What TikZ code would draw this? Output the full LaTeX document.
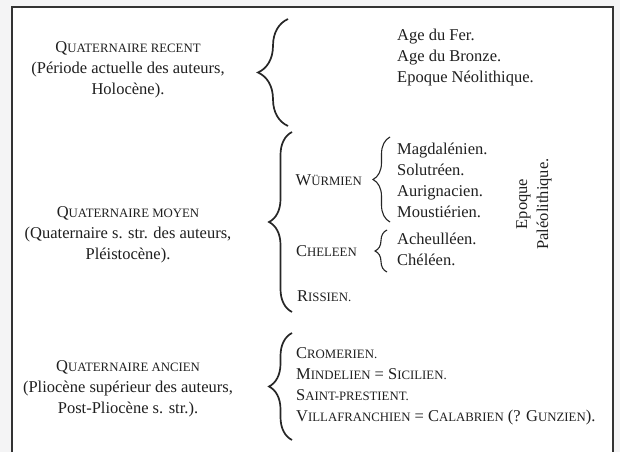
\documentclass[tikz,border=0pt]{standalone}
\usepackage{fontspec}
\setmainfont{Liberation Serif}
\usetikzlibrary{decorations.pathreplacing,positioning}

\newcommand\petcap[2]{#1{\fontsize{12.8}{15}\selectfont #2}}

\begin{document}
\begin{tikzpicture}[x=1pt,y=-1pt,font=\fontsize{16.5}{21}\selectfont,text=black!88]
  \tikzstyle{every node}=[inner sep=0pt]
  \tikzstyle{titre}=[align=center]
  \tikzstyle{liste}=[align=left,anchor=west]
  \tikzstyle{curly}=[decorate,decoration={brace,amplitude=#1},line width=1.7pt,black!85]
  \tikzstyle{petit}=[decorate,decoration={brace,amplitude=#1},line width=1.1pt,black!85]

  \useasboundingbox (0,0) rectangle (620,452);
  \fill[blue!4!gray!8] (0,0) rectangle (620,452);
  \fill[white] (12,7) rectangle (613,452);
  \draw[line width=1.4pt,black!80] (12,452) -- (12,7) -- (613,7) -- (613,452);

  \node[titre] (recent) at (128,70) {\petcap{Q}{UATERNAIRE RECENT}\\(Période actuelle des auteurs,\\Holocène).};
  \node[titre] (moyen)  at (128,235) {\petcap{Q}{UATERNAIRE MOYEN}\\(Quaternaire s. str. des auteurs,\\Pléistocène).};
  \node[titre] (ancien) at (128,389) {\petcap{Q}{UATERNAIRE ANCIEN}\\(Pliocène supérieur des auteurs,\\Post-Pliocène s. str.).};

  \node[liste] (recentlist) at (397,58) {Age du Fer.\\Age du Bronze.\\Epoque Néolithique.};

  \node[anchor=east] (wurm) at (362,180) {\petcap{W}{ÜRMIEN}};
  \node[anchor=east] (chel) at (357,251) {\petcap{C}{HELEEN}};
  \node[anchor=west] (riss) at (297,296) {\petcap{R}{ISSIEN.}};
  \node[liste] (wurmlist) at (397,180) {Magdalénien.\\Solutréen.\\Aurignacien.\\Moustiérien.};
  \node[liste] (chellist) at (397,249) {Acheulléen.\\Chéléen.};
  \node[rotate=90,titre] (paleo) at (534,204) {Epoque\\Paléolithique.};

  \node[liste] (ancienlist) at (296,386) {\petcap{C}{ROMERIEN.}\\\petcap{M}{INDELIEN} = \petcap{S}{ICILIEN.}\\\petcap{S}{AINT-PRESTIENT.}\\\petcap{V}{ILLAFRANCHIEN} = \petcap{C}{ALABRIEN} (? \petcap{G}{UNZIEN}).};

  \coordinate (recentT) at (288,19);
  \coordinate (recentB) at (288,126);
  \coordinate (moyenT) at (292,132);
  \coordinate (moyenB) at (292,312);
  \coordinate (ancienT) at (292,333);
  \coordinate (ancienB) at (292,440);
  \coordinate (wurmT) at (390,137);
  \coordinate (wurmB) at (390,222);
  \coordinate (chelT) at (387,230);
  \coordinate (chelB) at (387,272);

  \draw[curly=30] (recentB) -- (recentT);
  \draw[curly=23] (moyenB) -- (moyenT);
  \draw[curly=23] (ancienB) -- (ancienT);
  \draw[petit=17] (wurmB) -- (wurmT);
  \draw[petit=12] (chelB) -- (chelT);
\end{tikzpicture}
\end{document}
